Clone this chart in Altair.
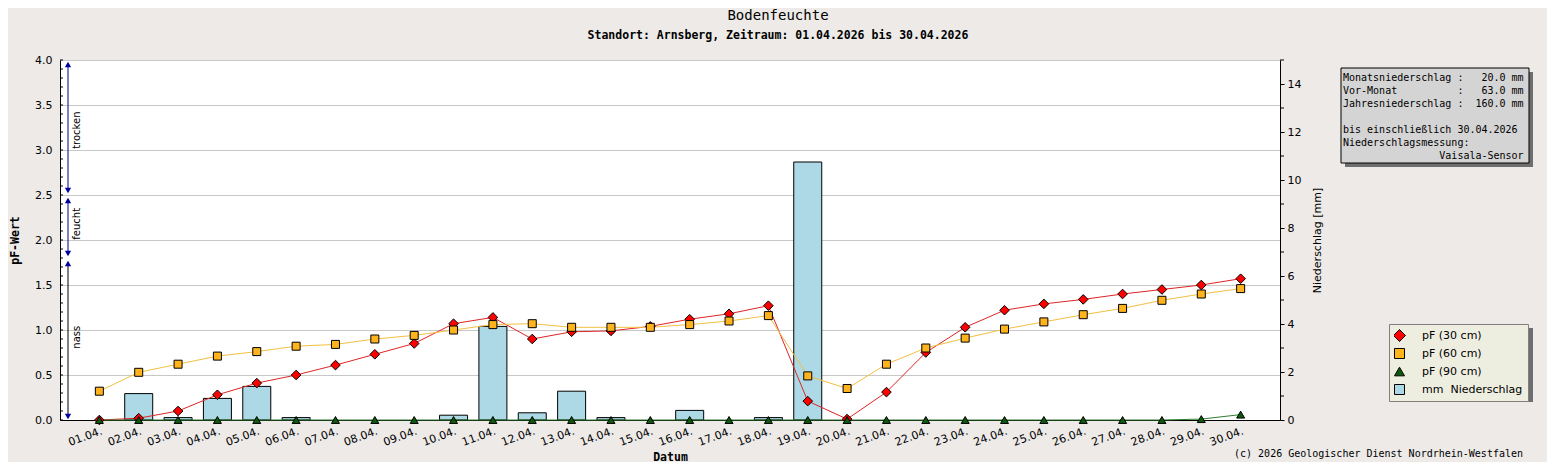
import altair as alt
import pandas as pd
import json

# ---------------- data ----------------
days = ["01.04.", "02.04.", "03.04.", "04.04.", "05.04.", "06.04.", "07.04.", "08.04.",
        "09.04.", "10.04.", "11.04.", "12.04.", "13.04.", "14.04.", "15.04.", "16.04.",
        "17.04.", "18.04.", "19.04.", "20.04.", "21.04.", "22.04.", "23.04.", "24.04.",
        "25.04.", "26.04.", "27.04.", "28.04.", "29.04.", "30.04."]

pf30 = [0.00, 0.02, 0.10, 0.28, 0.41, 0.50, 0.61, 0.73, 0.85, 1.07, 1.14, 0.90, 0.98, 0.99, 1.04,
        1.12, 1.18, 1.27, 0.21, 0.01, 0.31, 0.75, 1.03, 1.22, 1.29, 1.34, 1.40, 1.45, 1.50, 1.57]
pf60 = [0.32, 0.53, 0.62, 0.71, 0.76, 0.82, 0.84, 0.90, 0.94, 1.00, 1.06, 1.07, 1.03, 1.03, 1.03,
        1.06, 1.10, 1.16, 0.49, 0.35, 0.62, 0.80, 0.91, 1.01, 1.09, 1.17, 1.24, 1.33, 1.40, 1.46]
pf90 = [0.00, 0.00, 0.00, 0.00, 0.00, 0.00, 0.00, 0.00, 0.00, 0.00, 0.00, 0.00, 0.00, 0.00, 0.00,
        0.00, 0.00, 0.00, 0.00, 0.00, 0.00, 0.00, 0.00, 0.00, 0.00, 0.00, 0.00, 0.00, 0.01, 0.06]
niederschlag = [0.0, 1.1, 0.1, 0.9, 1.4, 0.1, 0.0, 0.0, 0.0, 0.2, 3.9, 0.3, 1.2, 0.1, 0.0,
                0.4, 0.0, 0.1, 10.75, 0.0, 0.0, 0.0, 0.0, 0.0, 0.0, 0.0, 0.0, 0.0, 0.0, 0.0]

S30, S60, S90, SN = "pF (30 cm)", "pF (60 cm)", "pF (90 cm)", "mm\u00a0 Niederschlag"

pf_labels = [0.0, 0.5, 1.0, 1.5, 2.0, 2.5, 3.0, 3.5, 4.0]
pf_minor = [0.0, 0.1, 0.2, 0.3, 0.4, 0.5, 0.6, 0.7, 0.8, 0.9, 1.0, 1.1, 1.2, 1.3, 1.4, 1.5, 1.6,
            1.7, 1.8, 1.9, 2.0, 2.1, 2.2, 2.3, 2.4, 2.5, 2.6, 2.7, 2.8, 2.9, 3.0, 3.1, 3.2, 3.3,
            3.4, 3.5, 3.6, 3.7, 3.8, 3.9, 4.0]
mm_labels = [0, 2, 4, 6, 8, 10, 12, 14]
mm_minor = [1, 3, 5, 7, 9, 11, 13, 15]

zone_labels = ["trocken", "feucht", "nass"]
zone_top = [3.95, 2.44, 1.74]
zone_bottom = [2.55, 1.85, 0.04]
zone_text = [3.22, 2.18, 0.92]
zone_line_color = ["#00008B", "#00008B", "#000000"]

info_lines = [
    "Monatsniederschlag :   20.0 mm",
    "Vor-Monat          :   63.0 mm",
    "Jahresniederschlag :  160.0 mm",
    " ",
    "bis einschließlich 30.04.2026",
    "Niederschlagsmessung:",
    "                Vaisala-Sensor",
]
copyright_text = "(c) 2026 Geologischer Dienst Nordrhein-Westfalen"
title_text = "Bodenfeuchte"
subtitle_text = "Standort: Arnsberg, Zeitraum: 01.04.2026 bis 30.04.2026"

# ---------------- tables ----------------
df_pf = pd.concat([
    pd.DataFrame({"day": days, "pf": pf30, "series": S30}),
    pd.DataFrame({"day": days, "pf": pf60, "series": S60}),
    pd.DataFrame({"day": days, "pf": pf90, "series": S90}),
], ignore_index=True)
df_mm = pd.DataFrame({"day": days, "mm": niederschlag, "series": SN})
df_minor = pd.DataFrame({"pf": pf_minor})
df_mm_minor = pd.DataFrame({"mm": mm_minor})
df_zone = pd.DataFrame({"label": zone_labels, "pf": zone_top, "bottom": zone_bottom,
                        "col": zone_line_color})
df_zone_bottom = pd.DataFrame({"pf": zone_bottom})
df_zone_text = pd.DataFrame({"pf": zone_text, "label": zone_labels})
one = pd.DataFrame({"a": [0]})

BG = "#EDEAE8"
MONO = "DejaVu Sans Mono"
SANS = "DejaVu Sans"
ZW = "\u200b"

# ---------------- scales / axes ----------------
X_SCALE = alt.Scale(type="point", domain=days, padding=1)
PF_SCALE = alt.Scale(domain=[0, 4], nice=False, zero=True)
MM_SCALE = alt.Scale(domain=[0, 15], nice=False, zero=True)

DIAMOND = "M0,-1.2L1.2,0L0,1.2L-1.2,0Z"
series_all = [S30, S60, S90, SN]
fill_colors = ["#FF0000", "#FFB41E", "#0B5A0B", "#ADD8E6"]
line_colors = ["#E02424", "#F3C040", "#2E7D32"]
fill_scale = alt.Scale(domain=series_all, range=fill_colors)
shape_scale = alt.Scale(domain=series_all, range=[DIAMOND, "square", "triangle-up", "square"])
stroke_scale = alt.Scale(domain=[S30, S60, S90], range=line_colors)

# legend symbols: marker with the line running through it
legend_paths = [
    "M-1.3,0L-0.9,0M0,-0.9L0.9,0L0,0.9L-0.9,0ZM0.9,0L1.3,0",
    "M-1.3,0L-0.7,0M-0.7,-0.7L0.7,-0.7L0.7,0.7L-0.7,0.7ZM0.7,0L1.3,0",
    "M-1.3,0.1L-0.55,0.1M0,-0.75L0.9,0.6L-0.9,0.6ZM0.55,0.1L1.3,0.1",
    "M-1,-1L1,-1L1,1L-1,1Z",
]

fill_legend = alt.Legend(
    orient="none", legendX=1329, legendY=264, title=None, padding=5, rowPadding=5,
    clipHeight=13, labelFont=SANS, labelFontSize=11, labelColor="black", symbolSize=100,
    labelOffset=17, labelLimit=300, fillColor="#EEEEE0", strokeColor="#808080",
    symbolStrokeWidth=1, symbolStrokeColor="black",
    symbolType={"expr": json.dumps(legend_paths) + "[datum.index]"},
)

x_axis = alt.Axis(title="Datum", labelAngle=340, labelAlign="right", labelBaseline="top",
                  labelPadding=5, ticks=False, grid=False, domainColor="black",
                  titleFont=MONO, titleFontWeight="bold", titleFontSize=11.5,
                  titleX=610, titleY=37, titleBaseline="middle", titleAlign="center")
left_axis = alt.Axis(title="pF-Wert", values=pf_labels, format=".1f", ticks=False,
                     labelPadding=8, grid=True, gridColor="#C8C8C8", domainColor="black",
                     titleFont=MONO, titleFontWeight="bold", titleFontSize=11.5,
                     titleX=-45, titleY=180, titleAngle=270, titleAlign="center",
                     titleBaseline="middle")
right_axis = alt.Axis(title="Niederschlag [mm]", orient="right", values=mm_labels,
                      tickSize=4, labelPadding=3, grid=False, domainColor="black",
                      tickColor="black", titleFont=SANS, titleFontWeight="normal",
                      titleFontSize=11, titleX=37, titleY=180, titleAngle=270,
                      titleAlign="center", titleBaseline="middle")

xo = alt.X("day:O", scale=X_SCALE, axis=x_axis)
yp = alt.Y("pf:Q", scale=PF_SCALE, axis=left_axis)
ym = alt.Y("mm:Q", scale=MM_SCALE, axis=right_axis)

# ---------------- layers ----------------
bars = alt.Chart(df_mm).transform_filter("datum.mm > 0").mark_bar(
    size=28, stroke="black", strokeWidth=1
).encode(
    x=xo, y=ym,
    fill=alt.Fill("series:N", scale=fill_scale, legend=fill_legend),
)
mm_minor_ticks = alt.Chart(df_mm_minor).mark_rule(color="black", strokeWidth=1).encode(
    y=ym, x=alt.value(1220), x2=alt.value(1224)
)
mm_layer = alt.layer(bars, mm_minor_ticks)

lines = alt.Chart(df_pf).mark_line(strokeWidth=1).encode(
    x=xo, y=yp,
    stroke=alt.Stroke("series:N", scale=stroke_scale, legend=None),
)

points = alt.Chart(df_pf).mark_point(
    filled=True, size=64, stroke="black", strokeWidth=1, opacity=1
).encode(
    x=xo, y=yp,
    fill=alt.Fill("series:N", scale=fill_scale, legend=fill_legend),
    shape=alt.Shape("series:N", scale=shape_scale, legend=None),
)

minor_ticks = alt.Chart(df_minor).mark_rule(color="black", strokeWidth=1).encode(
    y=yp, x=alt.value(0), x2=alt.value(3)
)

zone_rules = alt.Chart(df_zone).mark_rule(strokeWidth=1).encode(
    y=yp, y2="bottom:Q", x=alt.value(8),
    color=alt.Color("col:N", scale=None),
)
zone_up = alt.Chart(df_zone).mark_point(
    shape="triangle-up", filled=True, size=40, color="#0000A0", opacity=1
).encode(y=yp, x=alt.value(8))
zone_down = alt.Chart(df_zone_bottom).mark_point(
    shape="triangle-down", filled=True, size=40, color="#0000A0", opacity=1
).encode(y=yp, x=alt.value(8))
zone_txt = alt.Chart(df_zone_text).mark_text(
    angle=270, font=SANS, fontSize=10, align="center", baseline="middle", color="black"
).encode(y=yp, x=alt.value(17), text="label:N")

pf_layer = alt.layer(minor_ticks, lines, points, zone_rules, zone_up, zone_down, zone_txt)

# decorations (info box, legend shadow, copyright)
info_shadow = alt.Chart(one).mark_rect(color="#6E6E6E").encode(
    x=alt.value(1285), x2=alt.value(1473), y=alt.value(12), y2=alt.value(107))
info_box = alt.Chart(one).mark_rect(fill="#D4D4D4", stroke="black", strokeWidth=1).encode(
    x=alt.value(1281), x2=alt.value(1469), y=alt.value(8), y2=alt.value(103))
info_txt = alt.Chart(one).mark_text(
    text=[ZW + s.replace(" ", "\u00a0") + ZW for s in info_lines], align="left",
    baseline="top", font=MONO, fontSize=10, lineHeight=13, color="black"
).encode(x=alt.value(1283), y=alt.value(13))
legend_shadow = alt.Chart(one).mark_rect(color="#6E6E6E").encode(
    x=alt.value(1333), x2=alt.value(1473), y=alt.value(268), y2=alt.value(342))
copy_txt = alt.Chart(one).mark_text(
    text=copyright_text, align="right", baseline="middle", font=MONO, fontSize=10,
    color="black"
).encode(x=alt.value(1463), y=alt.value(394))

chart = alt.layer(
    info_shadow, info_box, info_txt, legend_shadow, copy_txt, mm_layer, pf_layer
).resolve_scale(y="independent").properties(
    width=1220, height=360,
    autosize=alt.AutoSizeParams(type="none"),
    padding={"left": 52, "top": 52, "right": 267, "bottom": 42},
    title=alt.Title(text=title_text, subtitle=subtitle_text, anchor="middle", dx=108,
                    font=MONO, fontSize=14, fontWeight="normal", color="black",
                    subtitleFont=MONO, subtitleFontSize=11.5, subtitleFontWeight="bold",
                    subtitleColor="black", subtitlePadding=7, offset=13),
).configure(background=BG).configure_view(fill="white", stroke="transparent").configure_axis(
    labelFont=SANS, labelFontSize=11, labelColor="black", titleColor="black",
    domainColor="black", domainWidth=1
)

chart.save("out.html", embed_options={"renderer": "svg", "actions": False})
